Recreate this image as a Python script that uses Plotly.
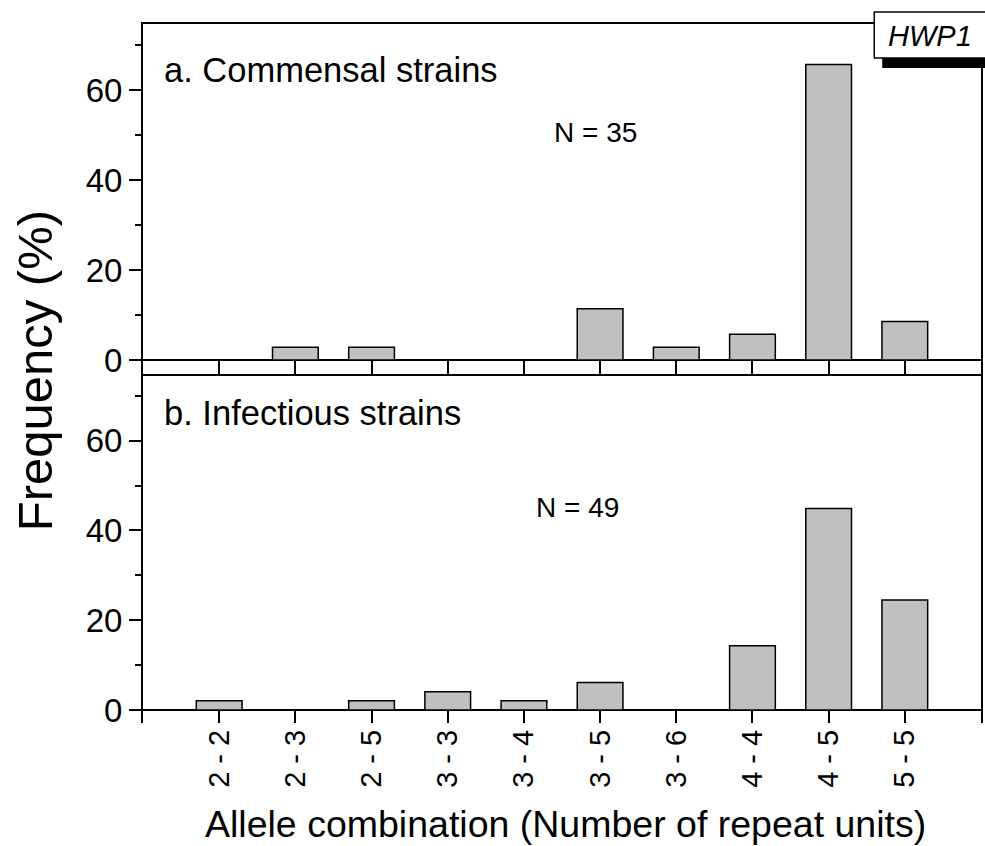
import plotly.graph_objects as go
from plotly.subplots import make_subplots

# Allele combinations (number of repeat units) and their frequencies (%)
categories = ["2 - 2", "2 - 3", "2 - 5", "3 - 3", "3 - 4",
              "3 - 5", "3 - 6", "4 - 4", "4 - 5", "5 - 5"]
commensal_pct = [0, 2.86, 2.86, 0, 0, 11.43, 2.86, 5.71, 65.71, 8.57]
infectious_pct = [2.04, 0, 2.04, 4.08, 2.04, 6.12, 0, 14.29, 44.90, 24.49]

commensal_n = 35
infectious_n = 49
y_ticks = [0, 20, 40, 60]

W, H = 985, 846
ML, MR, MT, MB = 143, 2, 24, 123
PW, PH = W - ML - MR, H - MT - MB
SPLIT = (723 - 374) / PH  # boundary between the two panels (paper units)


def px(xp):
    return (xp - ML) / PW


def py(yp):
    return (H - MB - yp) / PH


FONT = "Liberation Sans, Arial, sans-serif"

fig = make_subplots(rows=2, cols=1, shared_xaxes=False, vertical_spacing=0)

bar_style = dict(marker=dict(color="#c0c0c0", line=dict(color="black", width=1.5)),
                 width=0.6, showlegend=False, hoverinfo="x+y")
fig.add_trace(go.Bar(x=categories, y=commensal_pct, **bar_style), row=1, col=1)
fig.add_trace(go.Bar(x=categories, y=infectious_pct, **bar_style), row=2, col=1)

yax = dict(range=[-3.1, 74.7], tickvals=y_ticks, ticks="outside", ticklen=12,
           tickwidth=2, tickcolor="black", showline=True, linewidth=2,
           linecolor="black", mirror=True, showgrid=False, zeroline=True,
           zerolinecolor="black", zerolinewidth=2,
           minor=dict(dtick=10, tick0=0, ticks="outside", ticklen=6,
                      tickwidth=2, tickcolor="black"),
           tickfont=dict(family=FONT, size=33, color="black"))

fig.update_layout(
    width=W, height=H,
    margin=dict(l=ML, r=MR, t=MT, b=MB),
    plot_bgcolor="white", paper_bgcolor="white",
    font=dict(family=FONT, color="black"),
    bargap=0.4,
    xaxis=dict(domain=[0, 1], range=[-1, 10], type="category",
               categoryorder="array", categoryarray=categories,
               showline=True, linewidth=2, linecolor="black", mirror=True,
               ticks="inside", ticklen=14, tickwidth=2, tickcolor="black",
               showticklabels=False, showgrid=False, anchor="y"),
    xaxis2=dict(domain=[0, 1], range=[-1, 10], type="category",
                categoryorder="array", categoryarray=categories,
                showline=False, ticks="inside", ticklen=13, tickwidth=2,
                tickcolor="black", tickangle=-90, showgrid=False, anchor="y2",
                tickfont=dict(family=FONT, size=29, color="black")),
    yaxis=dict(domain=[SPLIT, 1], anchor="x", **yax),
    yaxis2=dict(domain=[0, SPLIT], anchor="x2",
                **{**yax, "range": [-2.9, 74.85]}),
)

ann = [
    dict(text="a. Commensal strains", x=px(162), y=py(70), xanchor="left",
         yanchor="middle", font=dict(size=34.5)),
    dict(text=f"N = {commensal_n}", x=px(597), y=py(133), xanchor="center",
         yanchor="middle", font=dict(size=28)),
    dict(text="b. Infectious strains", x=px(162), y=py(413), xanchor="left",
         yanchor="middle", font=dict(size=34.5)),
    dict(text=f"N = {infectious_n}", x=px(579), y=py(508), xanchor="center",
         yanchor="middle", font=dict(size=28)),
    dict(text="Frequency (%)", x=px(35), y=py(371), xanchor="center",
         yanchor="middle", textangle=-90, font=dict(size=49)),
    dict(text="Allele combination (Number of repeat units)", x=px(567),
         y=py(824), xanchor="center", yanchor="middle", font=dict(size=37.5)),
    dict(text="<i>HWP1</i>", x=px(932), y=py(36), xanchor="center",
         yanchor="middle", font=dict(size=29)),
]
for a in ann:
    a.update(xref="paper", yref="paper", showarrow=False)
    a["font"] = dict(family=FONT, color="black", **a["font"])
fig.update_layout(annotations=ann)

# Gene label box with a drop shadow
fig.add_shape(type="rect", xref="paper", yref="paper", x0=px(884), x1=px(1000),
              y0=py(68), y1=py(20), fillcolor="black", line=dict(width=0),
              layer="above")
fig.add_shape(type="rect", xref="paper", yref="paper", x0=px(876), x1=px(995),
              y0=py(58), y1=py(12), fillcolor="white",
              line=dict(color="black", width=1.5), layer="above")

fig.write_html("out.html")
